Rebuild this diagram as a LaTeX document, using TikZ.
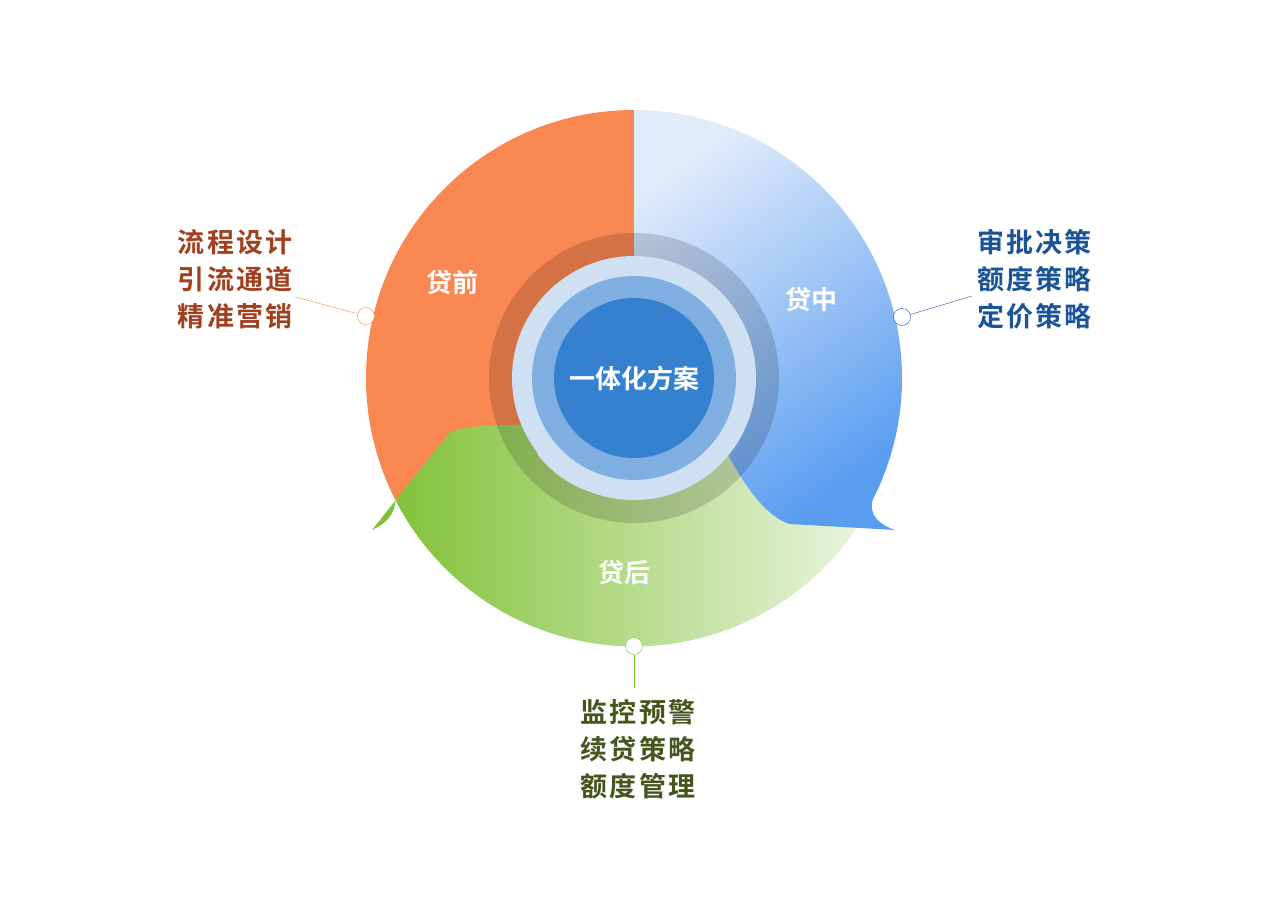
\documentclass[tikz,border=0pt]{standalone}
\usepackage{fontspec}
\setmainfont{Noto Sans CJK SC}[BoldFont={* Bold}]
\definecolor{cor}{RGB}{249,135,82}
\definecolor{cgA}{RGB}{125,192,48}
\definecolor{cgB}{RGB}{236,245,226}
\definecolor{cbA}{RGB}{225,236,251}
\definecolor{cbB}{RGB}{90,157,240}
\definecolor{ring1}{RGB}{207,224,243}
\definecolor{ring2}{RGB}{127,174,224}
\definecolor{ring3}{RGB}{53,128,207}
\definecolor{tor}{RGB}{160,64,31}
\definecolor{tbl}{RGB}{26,84,150}
\definecolor{tgr}{RGB}{70,85,30}
\begin{document}
\begin{tikzpicture}[x=1pt,y=-1pt,
  lab/.style={font=\bfseries\fontsize{27}{37}\selectfont\addfontfeature{LetterSpace=8},align=left},
  seg/.style={font=\bfseries\fontsize{26}{30}\selectfont,text=white},
  dot/.style={circle,draw,fill=white,minimum size=17pt,inner sep=0pt}]
\useasboundingbox (0,0) rectangle (1269,898);
\fill[white] (0,0) rectangle (1269,898);
\coordinate (c) at (634,378);
% orange
\fill[cor] (c) -- (634,110) arc[start angle=-90,end angle=-207,radius=268] -- cycle;
% green
\shade[left color=cgA,right color=cgB]
 (372,530) -- (450,432) .. controls (470,424) and (520,424) .. (558,425)
 .. controls (540,435) and (530,445) .. (540,458)
 arc[start angle=-220,end angle=-330,radius=110] -- (873,500)
 arc[start angle=27,end angle=153,radius=268] .. controls (395,515) and (385,524) .. (372,530) -- cycle;
% blue
\shade[top color=cbA,bottom color=cbB,shading angle=35]
 (c) -- (634,110) arc[start angle=-90,end angle=27,radius=268]
 .. controls (868,515) and (880,525) .. (895,530) -- (790,524)
 .. controls (760,515) and (735,470) .. (712,425) -- cycle;
% rings
\fill[black,opacity=0.15] (c) circle[radius=145];
\fill[ring1] (c) circle[radius=122];
\fill[ring2] (c) circle[radius=102];
\fill[ring3] (c) circle[radius=80];
\node[seg] (n0) at (634,378) {一体化方案};
\node[seg] (n1) at (452,283) {贷前};
\node[seg] (n2) at (811,300) {贷中};
\node[seg] (n3) at (624,573) {贷后};
% callouts
\node[dot,draw=cor] (d1) at (366,316) {};
\coordinate (e1) at (295,297);
\draw[cor] (d1) -- (e1);
\node[lab,text=tor,anchor=east] (t1) at (296,279) {流程设计\\引流通道\\精准营销};
\node[dot,draw=tbl] (d2) at (902,317) {};
\coordinate (e2) at (972,296);
\draw[tbl] (d2) -- (e2);
\node[lab,text=tbl,anchor=west] (t2) at (974,279) {审批决策\\额度策略\\定价策略};
\node[dot,draw=cgA] (d3) at (634,646) {};
\coordinate (e3) at (634,688);
\draw[cgA] (d3) -- (e3);
\node[lab,text=tgr,anchor=north] (t3) at (638,696) {监控预警\\续贷策略\\额度管理};
\end{tikzpicture}
\end{document}
